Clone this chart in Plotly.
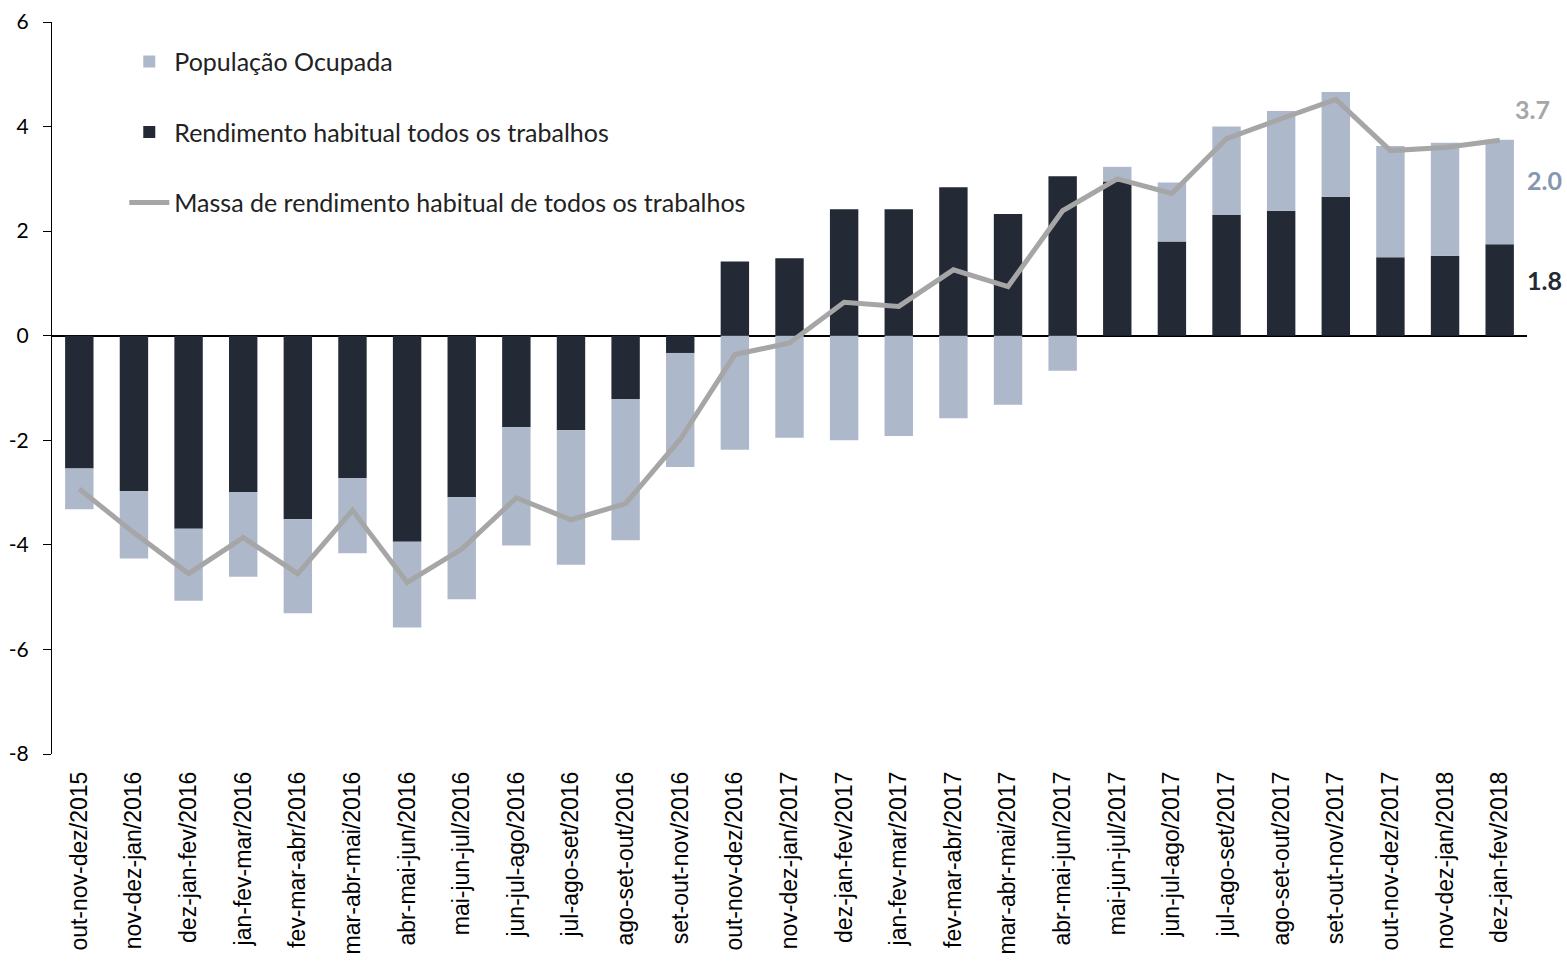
import plotly.graph_objects as go

categories = [
    "out-nov-dez/2015", "nov-dez-jan/2016", "dez-jan-fev/2016", "jan-fev-mar/2016",
    "fev-mar-abr/2016", "mar-abr-mai/2016", "abr-mai-jun/2016", "mai-jun-jul/2016",
    "jun-jul-ago/2016", "jul-ago-set/2016", "ago-set-out/2016", "set-out-nov/2016",
    "out-nov-dez/2016", "nov-dez-jan/2017", "dez-jan-fev/2017", "jan-fev-mar/2017",
    "fev-mar-abr/2017", "mar-abr-mai/2017", "abr-mai-jun/2017", "mai-jun-jul/2017",
    "jun-jul-ago/2017", "jul-ago-set/2017", "ago-set-out/2017", "set-out-nov/2017",
    "out-nov-dez/2017", "nov-dez-jan/2018", "dez-jan-fev/2018",
]

rendimento = [
    -2.54, -2.97, -3.69, -2.99, -3.51, -2.72, -3.94, -3.09, -1.75, -1.81, -1.21, -0.33,
    1.42, 1.48, 2.42, 2.42, 2.84, 2.33, 3.05, 2.95, 1.80, 2.31, 2.39, 2.66, 1.50, 1.53, 1.75,
]

populacao = [
    -0.78, -1.29, -1.38, -1.62, -1.80, -1.44, -1.64, -1.95, -2.26, -2.57, -2.70, -2.18,
    -2.18, -1.95, -2.00, -1.92, -1.58, -1.32, -0.67, 0.28, 1.13, 1.69, 1.91, 2.00, 2.13, 2.16, 2.00,
]

massa = [
    -2.93, -3.77, -4.55, -3.86, -4.55, -3.34, -4.72, -4.08, -3.10, -3.52, -3.21, -1.98,
    -0.36, -0.14, 0.64, 0.56, 1.26, 0.94, 2.39, 3.00, 2.72, 3.77, 4.15, 4.52, 3.54, 3.60, 3.74,
]

y_tick_vals = [-8, -6, -4, -2, 0, 2, 4, 6]
y_tick_text = ["-8", "-6", "-4", "-2", "0", "2", "4", "6"]

label_massa = "3.7"
label_pop = "2.0"
label_rend = "1.8"

DARK = "#232a35"
LIGHT = "#adb8ca"
GREY = "#a6a6a6"
FONT = "Lato"

fig = go.Figure()
fig.add_trace(go.Bar(
    x=categories, y=rendimento, name="Rendimento habitual todos os trabalhos",
    marker=dict(color=DARK, line=dict(width=0)), legendgroup="r", legendrank=2,
))
fig.add_trace(go.Bar(
    x=categories, y=populacao, name="População Ocupada",
    marker=dict(color=LIGHT, line=dict(width=0)), legendgroup="p", legendrank=1,
))
fig.add_trace(go.Scatter(
    x=categories, y=massa, mode="lines", name="Massa de rendimento habitual de todos os trabalhos",
    line=dict(color=GREY, width=5), legendgroup="m", legendrank=3,
))

last = categories[-1]
fig.add_annotation(x=last, y=massa[-1], xref="x", yref="y", text=f"<b>{label_massa}</b>",
                   showarrow=False, xanchor="left", yanchor="middle", xshift=13, yshift=31,
                   font=dict(family=FONT, size=25, color=GREY))
fig.add_annotation(x=last, y=rendimento[-1] + populacao[-1] / 2, xref="x", yref="y", text=f"<b>{label_pop}</b>",
                   showarrow=False, xanchor="left", yanchor="middle", xshift=25, yshift=12,
                   font=dict(family=FONT, size=25, color="#8496b0"))
fig.add_annotation(x=last, y=rendimento[-1] / 2, xref="x", yref="y", text=f"<b>{label_rend}</b>",
                   showarrow=False, xanchor="left", yanchor="middle", xshift=25, yshift=10,
                   font=dict(family=FONT, size=25, color=DARK))

fig.update_layout(
    barmode="relative",
    bargap=0.48,
    width=1567, height=962,
    margin=dict(l=52, r=40, t=22, b=208, autoexpand=False),
    paper_bgcolor="white", plot_bgcolor="white",
    font=dict(family=FONT, size=20, color="black"),
    showlegend=True,
    legend=dict(
        x=0.049, y=0.977, xanchor="left", yanchor="top",
        bgcolor="rgba(0,0,0,0)", font=dict(family=FONT, size=25, color="#222222"),
        traceorder="grouped", tracegroupgap=35, itemwidth=40,
    ),
    xaxis=dict(
        type="category", range=[-0.5, len(categories) - 0.5],
        tickangle=-90, showline=False, showgrid=False, ticks="",
        automargin=False, ticklabelstandoff=12,
        tickfont=dict(family="Liberation Sans", size=23, color="black"),
    ),
    yaxis=dict(
        range=[-8, 6], tickvals=y_tick_vals, ticktext=y_tick_text,
        showgrid=False, showline=True, linecolor="black", automargin=False,
        linewidth=1, ticks="outside", ticklen=8, tickcolor="black", ticklabelstandoff=10,
        zeroline=True, zerolinecolor="black", zerolinewidth=1.5,
        tickfont=dict(family=FONT, size=21, color="black"),
    ),
)

fig.write_html(
    "out.html",
    config={"displayModeBar": False},
    post_script="document.body.style.margin='0';document.body.style.overflow='hidden';",
)
